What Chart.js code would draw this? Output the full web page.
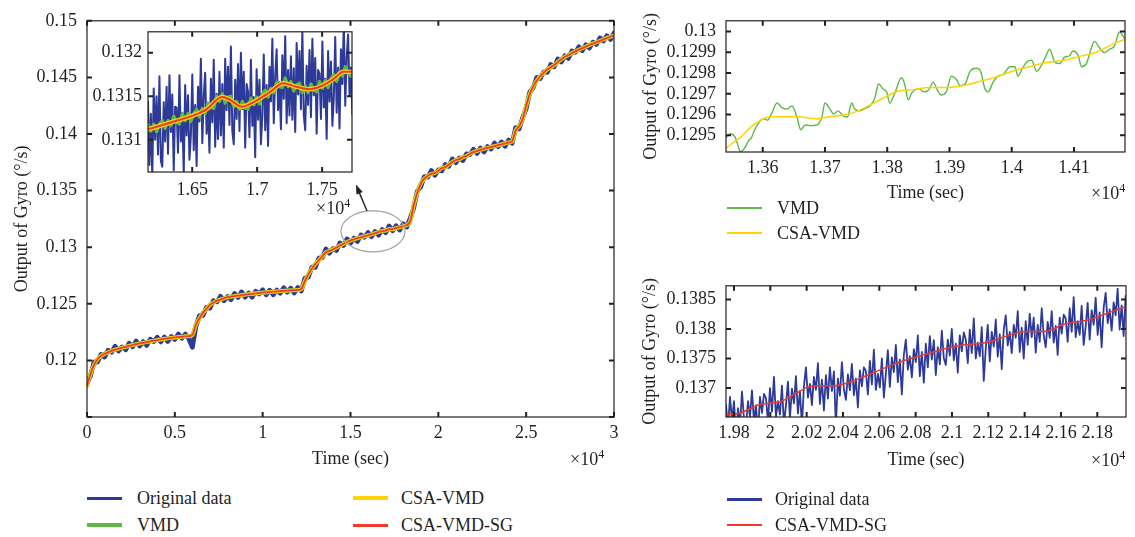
<!DOCTYPE html>
<html>
<head>
<meta charset="utf-8">
<title>Output of Gyro - VMD / CSA-VMD / CSA-VMD-SG</title>
<script src="https://cdn.jsdelivr.net/npm/chart.js@4.4.1/dist/chart.umd.min.js"></script>
<style>
  html, body { margin: 0; padding: 0; background: #fff; }
  #page { position: relative; width: 1135px; height: 537px; overflow: hidden;
          font-family: 'Liberation Serif', 'Times New Roman', serif; color: #231f20; }
  #page canvas { position: absolute; }
  .txt { position: absolute; font-size: 18px; line-height: 20px; white-space: nowrap; }
  .swatch { position: absolute; width: 35px; }
  .txt .sup { position: relative; top: -7px; font-size: 12px; }
</style>
</head>
<body>
<div id="page">
  <canvas id="mainChart" style="left:0;top:0" width="625" height="475"></canvas>
  <canvas id="insetChart" style="left:90px;top:15px" width="270" height="195"></canvas>
  <canvas id="vmdChart" style="left:630px;top:0" width="505" height="205"></canvas>
  <canvas id="sgChart" style="left:630px;top:265px" width="505" height="208"></canvas>

  <!-- x10^4 multipliers -->
  <div class="txt" style="left:570px;top:449px">×10<span class="sup">4</span></div>
  <div class="txt" style="left:316px;top:198px">×10<span class="sup">4</span></div>
  <div class="txt" style="left:1091px;top:183px">×10<span class="sup">4</span></div>
  <div class="txt" style="left:1091px;top:450px">×10<span class="sup">4</span></div>

  <!-- legend, main chart -->
  <div class="swatch" style="left:87px;top:497px;height:3px;background:#2e3a97"></div>
  <div class="txt" style="left:137px;top:488px">Original data</div>
  <div class="swatch" style="left:87px;top:523px;height:4px;background:#5cb947"></div>
  <div class="txt" style="left:137px;top:515px">VMD</div>
  <div class="swatch" style="left:353px;top:496px;height:4px;background:#ffd200"></div>
  <div class="txt" style="left:401px;top:488px">CSA-VMD</div>
  <div class="swatch" style="left:353px;top:524px;height:2.5px;background:#ee3a2c"></div>
  <div class="txt" style="left:401px;top:515px">CSA-VMD-SG</div>

  <!-- legend, top right -->
  <div class="swatch" style="left:727px;top:207px;height:2px;background:#5cb947"></div>
  <div class="txt" style="left:777px;top:198px">VMD</div>
  <div class="swatch" style="left:727px;top:232px;height:2px;background:#ffd200"></div>
  <div class="txt" style="left:777px;top:223px">CSA-VMD</div>

  <!-- legend, bottom right -->
  <div class="swatch" style="left:727px;top:498px;height:2.5px;background:#2e3a97"></div>
  <div class="txt" style="left:775px;top:489px">Original data</div>
  <div class="swatch" style="left:727px;top:524px;height:2px;background:#ee3a2c"></div>
  <div class="txt" style="left:775px;top:515px">CSA-VMD-SG</div>
</div>

<script>
// ---------------------------------------------------------------
// data (time in s, output in deg/s)
// ---------------------------------------------------------------

// full record, sampled every 200 s
const mainTime = [
  0,200,400,600,800,1000,1200,1400,1600,1800,2000,2200,2400,2600,2800,3000,3200,3400,3600,3800,
  4000,4200,4400,4600,4800,5000,5200,5400,5600,5800,6000,6200,6400,6600,6800,7000,7200,7400,7600,7800,
  8000,8200,8400,8600,8800,9000,9200,9400,9600,9800,10000,10200,10400,10600,10800,11000,11200,11400,11600,11800,
  12000,12200,12400,12600,12800,13000,13200,13400,13600,13800,14000,14200,14400,14600,14800,15000,15200,15400,15600,15800,
  16000,16200,16400,16600,16800,17000,17200,17400,17600,17800,18000,18200,18400,18600,18800,19000,19200,19400,19600,19800,
  20000,20200,20400,20600,20800,21000,21200,21400,21600,21800,22000,22200,22400,22600,22800,23000,23200,23400,23600,23800,
  24000,24200,24400,24600,24800,25000,25200,25400,25600,25800,26000,26200,26400,26600,26800,27000,27200,27400,27600,27800,
  28000,28200,28400,28600,28800,29000,29200,29400,29600,29800,30000
];
const mainOriginal = [
  0.11797,0.11862,0.11987,0.11985,0.12054,0.12029,0.12090,0.12072,0.12125,0.12082,
  0.12120,0.12093,0.12152,0.12120,0.12172,0.12126,0.12167,0.12132,0.12188,0.12165,
  0.12206,0.12163,0.12207,0.12167,0.12212,0.12184,0.12234,0.12195,0.12233,0.12189,
  0.12115,0.12297,0.12397,0.12395,0.12469,0.12461,0.12529,0.12516,0.12568,0.12527,
  0.12566,0.12536,0.12592,0.12556,0.12606,0.12558,0.12596,0.12558,0.12612,0.12586,
  0.12624,0.12579,0.12621,0.12579,0.12622,0.12593,0.12642,0.12602,0.12639,0.12594,
  0.12644,0.12612,0.12727,0.12735,0.12824,0.12821,0.12904,0.12908,0.12985,0.12947,
  0.12988,0.12970,0.13039,0.13014,0.13074,0.13036,0.13081,0.13050,0.13109,0.13088,
  0.13131,0.13092,0.13140,0.13106,0.13156,0.13128,0.13188,0.13145,0.13191,0.13151,
  0.13207,0.13177,0.13257,0.13345,0.13494,0.13531,0.13624,0.13618,0.13678,0.13634,
  0.13683,0.13673,0.13731,0.13714,0.13781,0.13746,0.13789,0.13765,0.13825,0.13816,
  0.13866,0.13828,0.13877,0.13841,0.13890,0.13866,0.13921,0.13887,0.13930,0.13891,
  0.13947,0.13917,0.14057,0.14045,0.14144,0.14221,0.14369,0.14408,0.14500,0.14489,
  0.14548,0.14543,0.14614,0.14594,0.14664,0.14636,0.14691,0.14667,0.14734,0.14721,
  0.14771,0.14736,0.14789,0.14758,0.14812,0.14791,0.14850,0.14822,0.14869,0.14834,
  0.14892
];
// VMD / CSA-VMD / CSA-VMD-SG lie on top of each other at this scale
const mainSmooth = [
  0.11775,0.11880,0.11960,0.12010,0.12040,0.12058,0.12071,0.12084,0.12095,0.12103,
  0.12112,0.12120,0.12128,0.12136,0.12143,0.12150,0.12156,0.12162,0.12168,0.12174,
  0.12180,0.12185,0.12190,0.12195,0.12199,0.12203,0.12206,0.12209,0.12212,0.12215,
  0.12225,0.12315,0.12370,0.12420,0.12455,0.12490,0.12510,0.12528,0.12538,0.12548,
  0.12558,0.12563,0.12568,0.12572,0.12577,0.12582,0.12585,0.12588,0.12592,0.12595,
  0.12598,0.12601,0.12604,0.12607,0.12609,0.12612,0.12614,0.12616,0.12618,0.12620,
  0.12622,0.12630,0.12700,0.12760,0.12810,0.12850,0.12885,0.12920,0.12955,0.12968,
  0.12980,0.12997,0.13015,0.13030,0.13045,0.13060,0.13070,0.13080,0.13089,0.13097,
  0.13105,0.13114,0.13123,0.13134,0.13143,0.13147,0.13160,0.13159,0.13170,0.13177,
  0.13185,0.13195,0.13230,0.13370,0.13480,0.13560,0.13605,0.13630,0.13648,0.13655,
  0.13675,0.13700,0.13707,0.13730,0.13752,0.13770,0.13778,0.13795,0.13805,0.13825,
  0.13840,0.13850,0.13860,0.13869,0.13877,0.13885,0.13893,0.13901,0.13909,0.13917,
  0.13925,0.13935,0.14030,0.14070,0.14130,0.14250,0.14350,0.14420,0.14470,0.14510,
  0.14540,0.14570,0.14590,0.14610,0.14635,0.14660,0.14680,0.14697,0.14714,0.14730,
  0.14745,0.14758,0.14772,0.14786,0.14799,0.14810,0.14822,0.14836,0.14848,0.14860,
  0.14870
];

// inset: 1.616e4 .. 1.773e4 s
const insetTime = [
  16160,16171,16182,16193,16204,16215,16226,16237,16248,16259,
  16270,16281,16292,16303,16314,16325,16336,16347,16358,16369,
  16380,16391,16402,16413,16424,16435,16446,16457,16468,16479,
  16490,16501,16512,16523,16534,16545,16556,16567,16578,16589,
  16600,16611,16622,16633,16644,16655,16666,16677,16688,16699,
  16710,16721,16732,16743,16754,16765,16776,16787,16798,16809,
  16820,16831,16842,16853,16864,16875,16886,16897,16908,16919,
  16930,16941,16952,16963,16974,16985,16996,17007,17018,17029,
  17040,17051,17062,17073,17084,17095,17106,17117,17128,17139,
  17150,17161,17172,17183,17194,17205,17216,17227,17238,17249,
  17260,17271,17282,17293,17304,17315,17326,17337,17348,17359,
  17370,17381,17392,17403,17414,17425,17436,17447,17458,17469,
  17480,17491,17502,17513,17524,17535,17546,17557,17568,17579,
  17590,17601,17612,17623,17634,17645,17656,17667,17678,17689,
  17700,17711,17722,17733
];
const insetOriginal = [
  0.13144,0.13071,0.13130,0.13057,0.13159,0.13100,0.13150,0.13083,0.13173,0.13076,
  0.13069,0.13143,0.13098,0.13161,0.13084,0.13174,0.13109,0.13152,0.13065,0.13138,
  0.13137,0.13085,0.13174,0.13098,0.13131,0.13062,0.13163,0.13105,0.13151,0.13077,
  0.13105,0.13175,0.13088,0.13140,0.13070,0.13161,0.13121,0.13193,0.13096,0.13151,
  0.13177,0.13107,0.13139,0.13085,0.13170,0.13120,0.13192,0.13092,0.13153,0.13101,
  0.13178,0.13105,0.13164,0.13091,0.13193,0.13134,0.13184,0.13117,0.13207,0.13110,
  0.13095,0.13169,0.13124,0.13187,0.13110,0.13200,0.13135,0.13178,0.13091,0.13164,
  0.13155,0.13103,0.13192,0.13116,0.13149,0.13080,0.13181,0.13123,0.13169,0.13095,
  0.13128,0.13198,0.13111,0.13163,0.13093,0.13184,0.13144,0.13216,0.13119,0.13174,
  0.13204,0.13134,0.13166,0.13112,0.13197,0.13147,0.13219,0.13119,0.13180,0.13128,
  0.13196,0.13123,0.13182,0.13109,0.13211,0.13152,0.13202,0.13135,0.13225,0.13128,
  0.13111,0.13185,0.13140,0.13203,0.13126,0.13216,0.13151,0.13194,0.13107,0.13180,
  0.13176,0.13124,0.13213,0.13137,0.13170,0.13101,0.13202,0.13144,0.13190,0.13116,
  0.13148,0.13218,0.13131,0.13183,0.13113,0.13204,0.13164,0.13236,0.13139,0.13194,
  0.13221,0.13151,0.13183,0.13129
];
const insetVmdTime = [
  16160,16182,16204,16226,16248,16270,16292,16314,16336,16358,
  16380,16402,16424,16446,16468,16490,16512,16534,16556,16578,
  16600,16622,16644,16666,16688,16710,16732,16754,16776,16798,
  16820,16842,16864,16886,16908,16930,16952,16974,16996,17018,
  17040,17062,17084,17106,17128,17150,17172,17194,17216,17238,
  17260,17282,17304,17326,17348,17370,17392,17414,17436,17458,
  17480,17502,17524,17546,17568,17590,17612,17634,17656,17678,
  17700,17722
];
const insetVmd = [
  0.13118,0.13110,0.13118,0.13109,0.13118,0.13122,0.13113,0.13122,0.13116,0.13127,
  0.13120,0.13118,0.13130,0.13122,0.13130,0.13121,0.13130,0.13135,0.13126,0.13136,
  0.13130,0.13142,0.13137,0.13136,0.13150,0.13144,0.13153,0.13142,0.13149,0.13150,
  0.13138,0.13144,0.13135,0.13144,0.13137,0.13135,0.13148,0.13140,0.13149,0.13141,
  0.13152,0.13157,0.13149,0.13159,0.13154,0.13166,0.13161,0.13160,0.13171,0.13161,
  0.13167,0.13156,0.13163,0.13165,0.13154,0.13162,0.13154,0.13164,0.13157,0.13155,
  0.13167,0.13159,0.13168,0.13160,0.13170,0.13175,0.13167,0.13178,0.13173,0.13184,
  0.13176,0.13173
];
// CSA-VMD and CSA-VMD-SG in the inset
const insetSmoothTime = [16160,16360,16510,16610,16730,16790,16880,16970,17100,17200,17300,17400,17500,17590,17665,17730];
const insetSmooth     = [0.13112,0.13121,0.13128,0.13135,0.13149,0.13146,0.13138,0.13143,0.13155,0.13165,0.13161,0.13158,0.13162,0.13170,0.13178,0.13178];

// top right: VMD vs CSA-VMD, 1.354e4 .. 1.418e4 s
const vmdZoomTime = [
  13541,13548,13556,13561,13564,13572,13577,13582,13586,13593,13601,13608,13614,13623,13631,13639,13647,13655,13661,13668,
  13676,13687,13695,13700,13708,13714,13721,13729,13736,13743,13748,13756,13764,13772,13780,13786,13793,13799,13804,13812,
  13823,13828,13834,13839,13844,13852,13858,13866,13874,13882,13887,13895,13903,13911,13917,13925,13933,13943,13949,13957,
  13962,13970,13978,13986,13992,13997,14005,14010,14016,14024,14032,14040,14045,14053,14061,14069,14077,14085,14093,14098,
  14107,14112,14120,14128,14133,14141,14149,14157,14165,14173,14181
];
const vmdZoom = [
  0.129489,0.129508,0.129489,0.129444,0.129421,0.129444,0.129474,0.129489,0.129520,0.129558,
  0.129580,0.129573,0.129603,0.129656,0.129633,0.129626,0.129641,0.129588,0.129527,0.129550,
  0.129547,0.129550,0.129588,0.129656,0.129626,0.129603,0.129618,0.129595,0.129588,0.129656,
  0.129626,0.129618,0.129629,0.129641,0.129679,0.129747,0.129724,0.129709,0.129656,0.129702,
  0.129777,0.129747,0.129671,0.129702,0.129717,0.129724,0.129709,0.129717,0.129755,0.129709,
  0.129694,0.129709,0.129785,0.129770,0.129739,0.129747,0.129808,0.129823,0.129815,0.129724,
  0.129709,0.129755,0.129785,0.129792,0.129815,0.129830,0.129830,0.129785,0.129815,0.129853,
  0.129861,0.129808,0.129823,0.129868,0.129914,0.129853,0.129845,0.129876,0.129883,0.129906,
  0.129883,0.129830,0.129845,0.129921,0.129952,0.129921,0.129898,0.129914,0.129929,0.129997,
  0.129967
];
const csaZoomTime = [13541,13564,13585,13612,13633,13655,13687,13708,13735,13762,13788,13815,13842,13868,13895,13922,13949,13975,14002,14029,14056,14082,14109,14136,14163,14181];
const csaZoom = [
  0.12944,0.12949,0.12955,0.12959,0.12959,0.12959,0.12958,0.12959,0.12960,0.12963,
  0.12967,0.12971,0.12972,0.12973,0.12973,0.12974,0.12976,0.12978,0.12981,0.12983,
  0.12985,0.12986,0.12988,0.12990,0.12994,0.12996
];

// bottom right: original vs CSA-VMD-SG, 1.976e4 .. 2.196e4 s
const rawZoomTime = [
  19756,19767,19778,19789,19800,19811,19822,19833,19844,19855,19866,19877,19888,19899,19910,19921,19932,19943,19954,19965,
  19976,19987,19998,20009,20020,20031,20042,20053,20064,20075,20086,20097,20108,20119,20130,20141,20152,20163,20174,20185,
  20196,20207,20218,20229,20240,20251,20262,20273,20284,20295,20306,20317,20328,20339,20350,20361,20372,20383,20394,20405,
  20416,20427,20438,20449,20460,20471,20482,20493,20504,20515,20526,20537,20548,20559,20570,20581,20592,20603,20614,20625,
  20636,20647,20658,20669,20680,20691,20702,20713,20724,20735,20746,20757,20768,20779,20790,20801,20812,20823,20834,20845,
  20856,20867,20878,20889,20900,20911,20922,20933,20944,20955,20966,20977,20988,20999,21010,21021,21032,21043,21054,21065,
  21076,21087,21098,21109,21120,21131,21142,21153,21164,21175,21186,21197,21208,21219,21230,21241,21252,21263,21274,21285,
  21296,21307,21318,21329,21340,21351,21362,21373,21384,21395,21406,21417,21428,21439,21450,21461,21472,21483,21494,21505,
  21516,21527,21538,21549,21560,21571,21582,21593,21604,21615,21626,21637,21648,21659,21670,21681,21692,21703,21714,21725,
  21736,21747,21758,21769,21780,21791,21802,21813,21824,21835,21846,21857,21868,21879,21890,21901,21912,21923,21934,21945,
  21956
];
const rawZoom = [
  0.13672,0.13632,0.13685,0.13645,0.13678,0.13619,0.13666,0.13637,0.13694,0.13648,
  0.13635,0.13678,0.13651,0.13696,0.13643,0.13671,0.13622,0.13685,0.13658,0.13690,
  0.13683,0.13643,0.13700,0.13660,0.13719,0.13651,0.13678,0.13655,0.13704,0.13638,
  0.13671,0.13711,0.13649,0.13699,0.13674,0.13720,0.13657,0.13695,0.13636,0.13703,
  0.13735,0.13684,0.13707,0.13671,0.13719,0.13697,0.13742,0.13673,0.13714,0.13662,
  0.13722,0.13682,0.13735,0.13695,0.13728,0.13635,0.13716,0.13687,0.13744,0.13698,
  0.13680,0.13723,0.13696,0.13741,0.13688,0.13716,0.13667,0.13730,0.13703,0.13735,
  0.13729,0.13689,0.13746,0.13706,0.13765,0.13697,0.13724,0.13701,0.13750,0.13684,
  0.13724,0.13764,0.13702,0.13752,0.13727,0.13773,0.13710,0.13748,0.13689,0.13756,
  0.13782,0.13731,0.13754,0.13718,0.13766,0.13744,0.13789,0.13720,0.13761,0.13709,
  0.13775,0.13735,0.13788,0.13748,0.13781,0.13722,0.13769,0.13740,0.13797,0.13751,
  0.13739,0.13782,0.13755,0.13800,0.13747,0.13775,0.13726,0.13789,0.13762,0.13794,
  0.13782,0.13742,0.13799,0.13759,0.13818,0.13750,0.13777,0.13754,0.13803,0.13712,
  0.13767,0.13807,0.13745,0.13795,0.13770,0.13816,0.13753,0.13791,0.13732,0.13799,
  0.13823,0.13772,0.13795,0.13759,0.13807,0.13785,0.13830,0.13761,0.13802,0.13750,
  0.13813,0.13773,0.13826,0.13786,0.13819,0.13760,0.13807,0.13778,0.13835,0.13789,
  0.13769,0.13812,0.13785,0.13830,0.13777,0.13805,0.13756,0.13819,0.13792,0.13824,
  0.13818,0.13778,0.13835,0.13795,0.13854,0.13786,0.13813,0.13790,0.13839,0.13773,
  0.13804,0.13844,0.13782,0.13832,0.13807,0.13853,0.13790,0.13828,0.13769,0.13836,
  0.13861,0.13810,0.13833,0.13797,0.13845,0.13823,0.13868,0.13799,0.13840,0.13788,
  0.13856
];
const sgZoomTime = [19756,19833,19888,19934,19998,20053,20108,20163,20200,20255,20347,20420,20512,20604,20695,20787,20879,20971,21062,21154,21209,21283,21356,21429,21503,21558,21613,21686,21760,21833,21906,21956];
const sgZoom = [
  0.136541,0.136579,0.136649,0.136714,0.136746,0.136768,0.136849,0.136946,0.137011,0.137038,
  0.137038,0.137081,0.137189,0.137307,0.137421,0.137513,0.137593,0.137674,0.137728,0.137755,
  0.137782,0.137863,0.137933,0.137955,0.137955,0.137998,0.138079,0.138117,0.138160,0.138241,
  0.138322,0.138376
];

// ---------------------------------------------------------------
// helpers
// ---------------------------------------------------------------
const INK = '#231f20';
const BLUE = '#2e3a97', GREEN = '#5cb947', YELLOW = '#ffd200', RED = '#ee3a2c';
Chart.defaults.font.family = "'Liberation Serif', 'Times New Roman', serif";
Chart.defaults.color = INK;

const pairs = (xs, ys) => xs.map((x, i) => ({ x, y: ys[i] }));
const fmt = (v, d) => String(Number(v.toFixed(d)));

// tick values on round multiples of the step (not counted from min)
const roundTicks = (step) => (scale) => {
  const out = [];
  const k0 = Math.ceil(scale.min / step - 1e-6);
  for (let k = k0; k * step <= scale.max + step * 1e-6; k++) {
    out.push({ value: Number((k * step).toPrecision(10)) });
  }
  scale.ticks = out;
};

const line = (label, xs, ys, color, width, smooth) => ({
  label,
  data: pairs(xs, ys),
  borderColor: color,
  borderWidth: width,
  borderJoinStyle: 'round',
  borderCapStyle: 'round',
  pointRadius: 0,
  fill: false,
  clip: 0,
  tension: 0,
  cubicInterpolationMode: smooth ? 'monotone' : 'default'
});

// MATLAB-like box with inward ticks on all four sides
const boxTicks = {
  id: 'boxTicks',
  beforeDatasetsDraw(chart, args, opts) {
    if (!opts.fill) return;
    const { ctx, chartArea: a } = chart;
    ctx.save();
    ctx.fillStyle = opts.fill;
    ctx.fillRect(a.left, a.top, a.right - a.left, a.bottom - a.top);
    ctx.restore();
  },
  afterDraw(chart) {
    const { ctx, chartArea: a, scales: { x, y } } = chart;
    const len = 5;
    ctx.save();
    ctx.strokeStyle = INK;
    ctx.lineWidth = 1.2;
    ctx.strokeRect(a.left, a.top, a.right - a.left, a.bottom - a.top);
    ctx.lineWidth = 2;
    ctx.beginPath();
    x.ticks.forEach((t) => {
      const px = x.getPixelForValue(t.value);
      ctx.moveTo(px, a.bottom); ctx.lineTo(px, a.bottom - len);
      ctx.moveTo(px, a.top); ctx.lineTo(px, a.top + len);
    });
    y.ticks.forEach((t) => {
      const py = y.getPixelForValue(t.value);
      ctx.moveTo(a.left, py); ctx.lineTo(a.left + len, py);
      ctx.moveTo(a.right, py); ctx.lineTo(a.right - len, py);
    });
    ctx.stroke();
    ctx.restore();
  }
};

// ellipse around the zoomed span + arrow to the inset (data coordinates)
const markCenter = [16280, 0.13140];
const markRadius = [1820, 0.00182];
const arrowFrom = [15940, 0.13319];
const arrowTo = [15310, 0.13553];
const zoomMark = {
  id: 'zoomMark',
  afterDatasetsDraw(chart) {
    const { ctx, scales: { x, y } } = chart;
    const cx = x.getPixelForValue(markCenter[0]);
    const cy = y.getPixelForValue(markCenter[1]);
    const rx = x.getPixelForValue(markCenter[0] + markRadius[0]) - cx;
    const ry = cy - y.getPixelForValue(markCenter[1] + markRadius[1]);
    ctx.save();
    ctx.strokeStyle = '#a7a9ac';
    ctx.lineWidth = 1.3;
    ctx.beginPath();
    ctx.ellipse(cx, cy, rx, ry, 0, 0, Math.PI * 2);
    ctx.stroke();

    const x0 = x.getPixelForValue(arrowFrom[0]), y0 = y.getPixelForValue(arrowFrom[1]);
    const x1 = x.getPixelForValue(arrowTo[0]), y1 = y.getPixelForValue(arrowTo[1]);
    const ang = Math.atan2(y1 - y0, x1 - x0);
    ctx.strokeStyle = INK;
    ctx.fillStyle = INK;
    ctx.lineWidth = 1.4;
    ctx.beginPath();
    ctx.moveTo(x0, y0);
    ctx.lineTo(x1 - 6 * Math.cos(ang), y1 - 6 * Math.sin(ang));
    ctx.stroke();
    ctx.beginPath();
    ctx.moveTo(x1, y1);
    ctx.lineTo(x1 - 10 * Math.cos(ang - 0.35), y1 - 10 * Math.sin(ang - 0.35));
    ctx.lineTo(x1 - 10 * Math.cos(ang + 0.35), y1 - 10 * Math.sin(ang + 0.35));
    ctx.closePath();
    ctx.fill();
    ctx.restore();
  }
};

function axisChart(id, datasets, o) {
  return new Chart(document.getElementById(id), {
    type: 'line',
    data: { datasets },
    options: {
      responsive: false,
      animation: false,
      events: [],
      layout: { padding: o.pad },
      plugins: {
        legend: { display: false },
        tooltip: { enabled: false },
        boxTicks: { fill: o.fill || null }
      },
      scales: {
        x: {
          type: 'linear',
          min: o.x[0], max: o.x[1],
          grid: { display: false, drawTicks: false },
          border: { display: false },
          afterBuildTicks: roundTicks(o.x[2]),
          ticks: {
            autoSkip: false, maxRotation: 0, minRotation: 0, padding: o.xPad,
            font: { size: o.fs }, color: INK,
            callback: (v) => fmt(v / 1e4, 2)
          },
          title: o.xTitle !== undefined
            ? { display: true, text: 'Time (sec)', color: INK, font: { size: 18 }, padding: { top: 0, bottom: o.xTitle } }
            : { display: false },
          afterFit: (s) => { s.height = o.xH; }
        },
        y: {
          type: 'linear',
          min: o.y[0], max: o.y[1],
          grid: { display: false, drawTicks: false },
          border: { display: false },
          afterBuildTicks: roundTicks(o.y[2]),
          ticks: {
            autoSkip: false, padding: o.yPad,
            font: { size: o.fs }, color: INK,
            callback: (v) => (o.yHideBelow && v < o.yHideBelow ? '' : fmt(v, 4))
          },
          title: o.yTitle !== undefined
            ? { display: true, text: 'Output of Gyro (°/s)', color: INK, font: { size: 18 }, padding: { top: o.yTitle, bottom: 0 } }
            : { display: false },
          afterFit: (s) => { s.width = o.yW; }
        }
      }
    },
    plugins: [boxTicks].concat(o.extra || [])
  });
}

// ---------------------------------------------------------------
// charts
// ---------------------------------------------------------------
axisChart('mainChart', [
  line('CSA-VMD-SG', mainTime, mainSmooth, RED, 1.8, true),
  line('CSA-VMD', mainTime, mainSmooth, YELLOW, 3.6, true),
  line('VMD', mainTime, mainSmooth, GREEN, 4.2, true),
  line('Original data', mainTime, mainOriginal, BLUE, 4.6, false)
], {
  pad: { left: 0, top: 13, right: 11, bottom: 0 },
  x: [0, 30000, 5000], y: [0.115, 0.15, 0.005], yHideBelow: 0.1175,
  yW: 87, xH: 58, xPad: 5, yPad: 10, fs: 18,
  xTitle: 5, yTitle: 11, extra: [zoomMark]
});

axisChart('insetChart', [
  line('CSA-VMD-SG', insetSmoothTime, insetSmooth, RED, 2, true),
  line('CSA-VMD', insetSmoothTime, insetSmooth, YELLOW, 4.5, true),
  line('VMD', insetVmdTime, insetVmd, GREEN, 3.2, false),
  line('Original data', insetTime, insetOriginal, BLUE, 2, false)
], {
  pad: { left: 0, top: 8, right: 8, bottom: 0 },
  x: [16160, 17730, 500], y: [0.13063, 0.13224, 0.0005],
  yW: 58, xH: 38, xPad: 7, yPad: 6, fs: 18, fill: '#ffffff'
});

axisChart('vmdChart', [
  line('CSA-VMD', csaZoomTime, csaZoom, YELLOW, 1.5, true),
  line('VMD', vmdZoomTime, vmdZoom, GREEN, 1.4, true)
], {
  pad: { left: 0, top: 13, right: 10, bottom: 0 },
  x: [13541, 14182, 100], y: [0.12942, 0.130051, 0.0001],
  yW: 96, xH: 53, xPad: 5, yPad: 10, fs: 18,
  xTitle: 1, yTitle: 10
});

axisChart('sgChart', [
  line('CSA-VMD-SG', sgZoomTime, sgZoom, RED, 1.5, true),
  line('Original data', rawZoomTime, rawZoom, BLUE, 1.8, false)
], {
  pad: { left: 0, top: 15, right: 9, bottom: 0 },
  x: [19756, 21958, 200], y: [0.13651, 0.13873, 0.0005],
  yW: 96, xH: 56, xPad: 5, yPad: 10, fs: 18,
  xTitle: 2, yTitle: 9
});
</script>
</body>
</html>
